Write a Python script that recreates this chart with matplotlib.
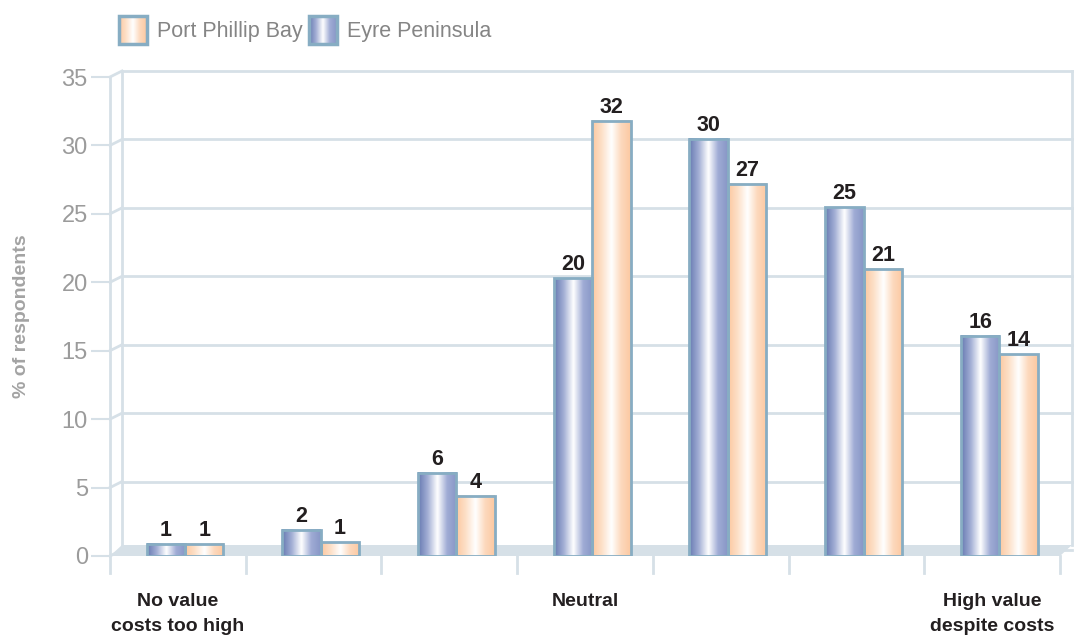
import numpy as np
import matplotlib
matplotlib.use('Agg')
import matplotlib.pyplot as plt
from matplotlib.colors import LinearSegmentedColormap
from matplotlib.patches import Polygon, Rectangle

plt.rcParams['font.family'] = ['Liberation Sans', 'DejaVu Sans']

# datos
categorias = ['No value\ncosts too high', '', '', 'Neutral', '', '', 'High value\ndespite costs']
eyre = [0.9, 1.9, 6.1, 20.3, 30.5, 25.5, 16.1]
port_phillip = [0.9, 1.0, 4.4, 31.8, 27.2, 21.0, 14.75]
eyre_etiquetas = ['1', '2', '6', '20', '30', '25', '16']
port_etiquetas = ['1', '1', '4', '32', '27', '21', '14']
yticks = [0, 5, 10, 15, 20, 25, 30, 35]

W, H = 1077, 640
fig = plt.figure(figsize=(W / 100, H / 100), dpi=100)
ax = fig.add_axes([110 / W, (H - 556) / H, 950 / W, 479 / H])
ax.set_xlim(0, 7)
ax.set_ylim(0, 35)
px = 7 / 950   # un pixel en x
py = 35 / 479  # un pixel en y

gris = '#d6e0e7'
borde = '#87adc3'
azul = LinearSegmentedColormap.from_list('azul', ['#6679b1', '#a3afd5', '#ffffff', '#a0acd5', '#8796c6'])
naranja = LinearSegmentedColormap.from_list('naranja', ['#fcc8a0', '#fde0c8', '#ffffff', '#fdd9bd', '#fcc8a0'])
grad = np.linspace(0, 1, 200).reshape(1, -1)

# pared del fondo y piso
dx, dy = 12 * px, 6 * py
for v in yticks:
    ax.plot([0 + dx, 7 + dx], [v + dy, v + dy], color=gris, lw=2, clip_on=False, zorder=0)
    ax.plot([0, dx], [v, v + dy], color=gris, lw=2, clip_on=False, zorder=0)
ax.plot([dx, dx], [11 * py, 35 + dy], color=gris, lw=2, clip_on=False, zorder=0)
ax.plot([7 + dx, 7 + dx], [11 * py, 35 + dy], color=gris, lw=2, clip_on=False, zorder=0)
ax.add_patch(Polygon([(0, 0), (7, 0), (7 + 12 * px, 11 * py), (12 * px, 11 * py)],
                     closed=True, facecolor=gris, edgecolor='none', clip_on=False, zorder=1))
ax.plot([0, 0], [-17 * py, 35], color=gris, lw=2, clip_on=False, zorder=1)
for i in range(1, 8):
    ax.plot([i, i], [-17 * py, 0], color=gris, lw=2, clip_on=False, zorder=1)

# barras con degradado
ancho = 0.283
for i in range(7):
    x0 = i + 0.27
    for x, h, cmap in [(x0, eyre[i], azul), (x0 + ancho, port_phillip[i], naranja)]:
        ax.imshow(grad, extent=[x, x + ancho, 0, h], aspect='auto', cmap=cmap,
                  interpolation='bicubic', zorder=3)
    ax.bar([x0, x0 + ancho], [eyre[i], port_phillip[i]], width=ancho, align='edge',
           fill=False, edgecolor=borde, lw=2, zorder=4)
    ax.text(x0 + ancho / 2, eyre[i] + 3 * py, eyre_etiquetas[i], ha='center', va='bottom',
            fontsize=15.5, fontweight='bold', color='#231f20')
    ax.text(x0 + 1.5 * ancho, port_phillip[i] + 3 * py, port_etiquetas[i], ha='center', va='bottom',
            fontsize=15.5, fontweight='bold', color='#231f20')
    if categorias[i]:
        ax.text(i + 0.5, -37 * py, categorias[i], ha='center', va='top', fontsize=14,
                fontweight='bold', color='#231f20', linespacing=1.65)

ax.set_xlim(0, 7)
ax.set_ylim(0, 35)
for s in ax.spines.values():
    s.set_visible(False)
ax.set_xticks([])
ax.set_yticks(yticks)
ax.tick_params(axis='y', length=14, width=1.5, color=gris, pad=2, labelsize=17, labelcolor='#9b9b9b')
ax.patch.set_alpha(0)

fig.text(22 / W, 1 - 316 / H, '% of respondents', rotation=90, ha='center', va='center',
         fontsize=14, fontweight='bold', color='#a3a3a3')

# leyenda
lg = fig.add_axes([0, 0, 1, 1], zorder=-1)
lg.set_xlim(0, W)
lg.set_ylim(H, 0)
lg.axis('off')
for x, cmap, texto in [(119, naranja, 'Port Phillip Bay'), (309, azul, 'Eyre Peninsula')]:
    lg.imshow(grad, extent=[x, x + 28, 44, 16], aspect='auto', cmap=cmap, interpolation='bicubic')
    lg.add_patch(Rectangle((x, 16), 28, 28, fill=False, edgecolor=borde, lw=2.5))
    lg.text(x + 38, 31, texto, ha='left', va='center', fontsize=15.5, color='#858585')
lg.set_xlim(0, W)
lg.set_ylim(H, 0)

plt.savefig('out.png', dpi=100)
